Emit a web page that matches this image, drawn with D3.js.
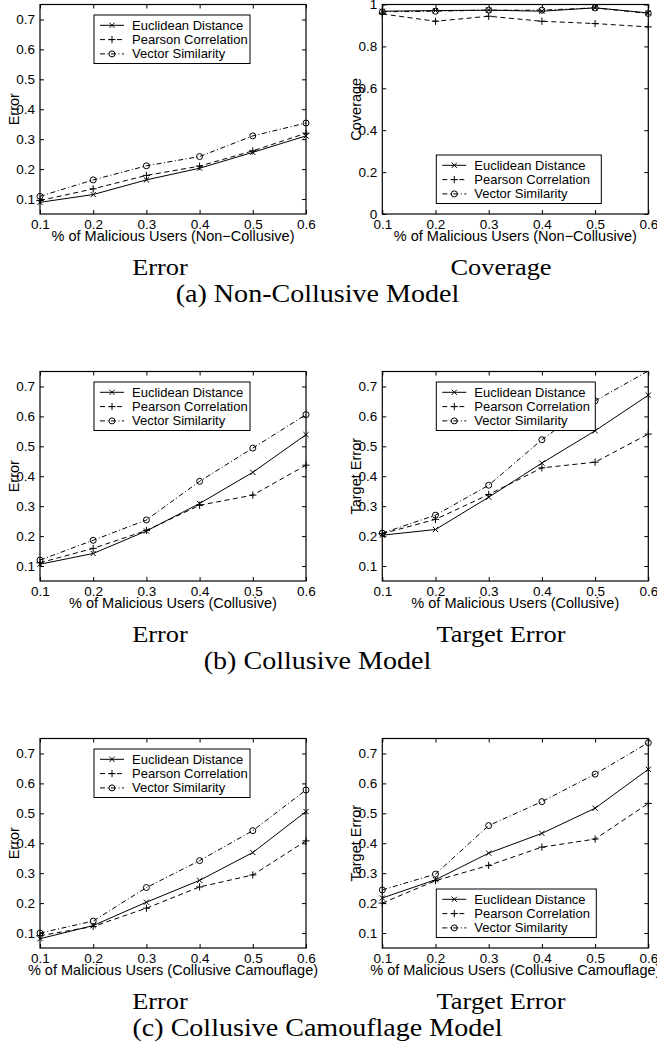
<!DOCTYPE html>
<html><head><meta charset="utf-8">
<script src="https://cdn.jsdelivr.net/npm/d3@7"></script>
<style>
body{margin:0;background:#fff;}
svg{display:block;}
</style></head><body>
<svg id="chart" width="657" height="1046"></svg>
<script>
// ---------- data ----------
const xValues = [0.1, 0.2, 0.3, 0.4, 0.5, 0.6];
const xTicks = [0.1, 0.2, 0.3, 0.4, 0.5, 0.6];
const errorTicks = [0.1, 0.2, 0.3, 0.4, 0.5, 0.6, 0.7];
const coverageTicks = [0, 0.2, 0.4, 0.6, 0.8, 1];
const seriesNames = ["Euclidean Distance", "Pearson Correlation", "Vector Similarity"];

// (a) Non-Collusive model
const nonCollErrorEuclid   = [0.089, 0.115, 0.164, 0.203, 0.256, 0.311];
const nonCollErrorPearson  = [0.095, 0.134, 0.179, 0.210, 0.261, 0.320];
const nonCollErrorVector   = [0.109, 0.164, 0.211, 0.242, 0.311, 0.354];
const nonCollCoverEuclid   = [0.968, 0.971, 0.973, 0.968, 0.984, 0.960];
const nonCollCoverPearson  = [0.955, 0.920, 0.944, 0.920, 0.909, 0.893];
const nonCollCoverVector   = [0.965, 0.968, 0.973, 0.973, 0.984, 0.957];
// (b) Collusive model
const collErrorEuclid      = [0.106, 0.142, 0.217, 0.309, 0.413, 0.539];
const collErrorPearson     = [0.111, 0.159, 0.219, 0.303, 0.337, 0.437];
const collErrorVector      = [0.120, 0.186, 0.254, 0.383, 0.494, 0.606];
const collTargetEuclid     = [0.203, 0.222, 0.330, 0.444, 0.552, 0.671];
const collTargetPearson    = [0.208, 0.256, 0.339, 0.428, 0.447, 0.541];
const collTargetVector     = [0.210, 0.270, 0.370, 0.522, 0.652, 0.752];
// (c) Collusive Camouflage model
const camoErrorEuclid      = [0.081, 0.125, 0.203, 0.276, 0.369, 0.506];
const camoErrorPearson     = [0.091, 0.122, 0.183, 0.254, 0.294, 0.408];
const camoErrorVector      = [0.100, 0.140, 0.252, 0.342, 0.442, 0.578];
const camoTargetEuclid     = [0.217, 0.278, 0.367, 0.433, 0.517, 0.647];
const camoTargetPearson    = [0.200, 0.275, 0.326, 0.387, 0.414, 0.533];
const camoTargetVector     = [0.244, 0.297, 0.459, 0.539, 0.631, 0.736];

const xAxisLabels = ["% of Malicious Users (Non\u2212Collusive)", "% of Malicious Users (Collusive)", "% of Malicious Users (Collusive Camouflage)"];
const yAxisLabels = ["Error", "Coverage", "Error", "Target Error", "Error", "Target Error"];
const panelCaptions = ["Error", "Coverage", "Error", "Target Error", "Error", "Target Error"];
const rowCaptions = ["(a) Non-Collusive Model", "(b) Collusive Model", "(c) Collusive Camouflage Model"];

// ---------- layout ----------
const svg = d3.select("#chart");
const rowTop = [4.5, 371.5, 738.5];
const colLeft = [40, 382.3];
const W = 266, H = 209.5;
const SANS = "'Liberation Sans', Arial, sans-serif";
const SERIF = "'Liberation Serif', 'Times New Roman', serif";
const TICK_FS = 13.5, LEG_FS = 13, LABEL_FS = 14.5;

const panels = [
  {row:0, col:0, domain:[0.05,0.75], ticks:errorTicks, series:[nonCollErrorEuclid, nonCollErrorPearson, nonCollErrorVector], legend:"top", legW:156},
  {row:0, col:1, domain:[0,1], ticks:coverageTicks, series:[nonCollCoverEuclid, nonCollCoverPearson, nonCollCoverVector], legend:"bottom", legW:165},
  {row:1, col:0, domain:[0.05,0.75], ticks:errorTicks, series:[collErrorEuclid, collErrorPearson, collErrorVector], legend:"top", legW:156},
  {row:1, col:1, domain:[0.05,0.75], ticks:errorTicks, series:[collTargetEuclid, collTargetPearson, collTargetVector], legend:"top", legW:159},
  {row:2, col:0, domain:[0.05,0.75], ticks:errorTicks, series:[camoErrorEuclid, camoErrorPearson, camoErrorVector], legend:"top", legW:156},
  {row:2, col:1, domain:[0.05,0.75], ticks:errorTicks, series:[camoTargetEuclid, camoTargetPearson, camoTargetVector], legend:"bottom", legW:160},
];

const dashes = [null, "5,3.5", "5,2.5,1,2.5"];
const markerPaths = [
  "M-2.6,-2.6L2.6,2.6M-2.6,2.6L2.6,-2.6",
  "M-3.6,0H3.6M0,-3.6V3.6",
  null
];

function drawMarker(g, i, x, y) {
  if (i === 2) {
    g.append("circle").attr("cx", x).attr("cy", y).attr("r", 3)
      .attr("fill", "none").attr("stroke", "#000").attr("stroke-width", 1);
  } else {
    g.append("path").attr("d", markerPaths[i]).attr("transform", `translate(${x},${y})`)
      .attr("fill", "none").attr("stroke", "#000").attr("stroke-width", 1);
  }
}

const fmt = d => String(+d.toFixed(2));

panels.forEach((p, pi) => {
  const g = svg.append("g").attr("transform", `translate(${colLeft[p.col]},${rowTop[p.row]})`);
  const x = d3.scaleLinear().domain([0.1, 0.6]).range([0, W]);
  const y = d3.scaleLinear().domain(p.domain).range([H, 0]);

  const clipId = "clip" + pi;
  g.append("clipPath").attr("id", clipId).append("rect").attr("width", W).attr("height", H);

  const left = g.append("g").call(d3.axisLeft(y).tickValues(p.ticks).tickSize(-4).tickPadding(5).tickFormat(fmt));
  const right = g.append("g").attr("transform", `translate(${W},0)`).call(d3.axisRight(y).tickValues(p.ticks).tickSize(-4).tickFormat(""));
  const bottom = g.append("g").attr("transform", `translate(0,${H})`).call(d3.axisBottom(x).tickValues(xTicks).tickSize(-4).tickPadding(5.5).tickFormat(fmt));
  const top = g.append("g").call(d3.axisTop(x).tickValues(xTicks).tickSize(-4).tickFormat(""));
  [left, right, bottom, top].forEach(a => {
    a.select(".domain").remove();
    a.selectAll("line").attr("stroke", "#000").attr("stroke-width", 1);
    a.selectAll("text").attr("fill", "#000").style("font-family", SANS).style("font-size", TICK_FS + "px");
  });

  const lines = g.append("g").attr("clip-path", `url(#${clipId})`);
  p.series.forEach((vals, si) => {
    const pts = xValues.map((xv, k) => [xv, vals[k]]);
    lines.append("path").datum(pts)
      .attr("d", d3.line().x(d => x(d[0])).y(d => y(d[1])))
      .attr("fill", "none").attr("stroke", "#000").attr("stroke-width", 1)
      .attr("stroke-dasharray", dashes[si]);
    pts.filter(d => d[1] >= p.domain[0] && d[1] <= p.domain[1])
      .forEach(d => drawMarker(g, si, x(d[0]), y(d[1])));
  });

  g.append("rect").attr("width", W).attr("height", H)
    .attr("fill", "none").attr("stroke", "#000").attr("stroke-width", 1.2);

  g.append("text").attr("x", W / 2).attr("y", H + 26.5).attr("text-anchor", "middle")
    .style("font-family", SANS).style("font-size", LABEL_FS + "px").text(xAxisLabels[p.row]);
  g.append("text").attr("transform", `translate(-21.5,${H / 2}) rotate(-90)`).attr("text-anchor", "middle")
    .style("font-family", SANS).style("font-size", LABEL_FS + "px").text(yAxisLabels[pi]);

  const lw = p.legW, lh = 48.5;
  const lx = 54;
  const ly = p.legend === "top" ? 10.5 : H - 10.5 - lh;
  const leg = g.append("g").attr("transform", `translate(${lx},${ly})`);
  leg.append("rect").attr("width", lw).attr("height", lh).attr("fill", "#fff")
    .attr("stroke", "#000").attr("stroke-width", 1);
  seriesNames.forEach((name, si) => {
    const cy = 10.3 + si * 14.3;
    leg.append("line").attr("x1", 6).attr("x2", 30).attr("y1", cy).attr("y2", cy)
      .attr("stroke", "#000").attr("stroke-width", 1).attr("stroke-dasharray", dashes[si]);
    drawMarker(leg, si, 18, cy);
    leg.append("text").attr("x", 38).attr("y", cy).attr("dy", "0.35em")
      .style("font-family", SANS).style("font-size", LEG_FS + "px").text(name);
  });
});

function stretched(sel, factor) {
  const len = sel.node().getComputedTextLength();
  sel.attr("textLength", len * factor).attr("lengthAdjust", "spacingAndGlyphs");
}

const capCenters = [160, 501];
panelCaptions.forEach((c, i) => {
  const row = Math.floor(i / 2), col = i % 2;
  const t = svg.append("text").attr("x", capCenters[col]).attr("y", rowTop[row] + 270.5)
    .attr("text-anchor", "middle").style("font-family", SERIF).style("font-size", "24px").text(c);
  stretched(t, 1.1);
});
rowCaptions.forEach((c, r) => {
  const t = svg.append("text").attr("x", 317.5).attr("y", rowTop[r] + 297)
    .attr("text-anchor", "middle").style("font-family", SERIF).style("font-size", "25.5px").text(c);
  stretched(t, 1.1);
});
</script>
</body></html>
